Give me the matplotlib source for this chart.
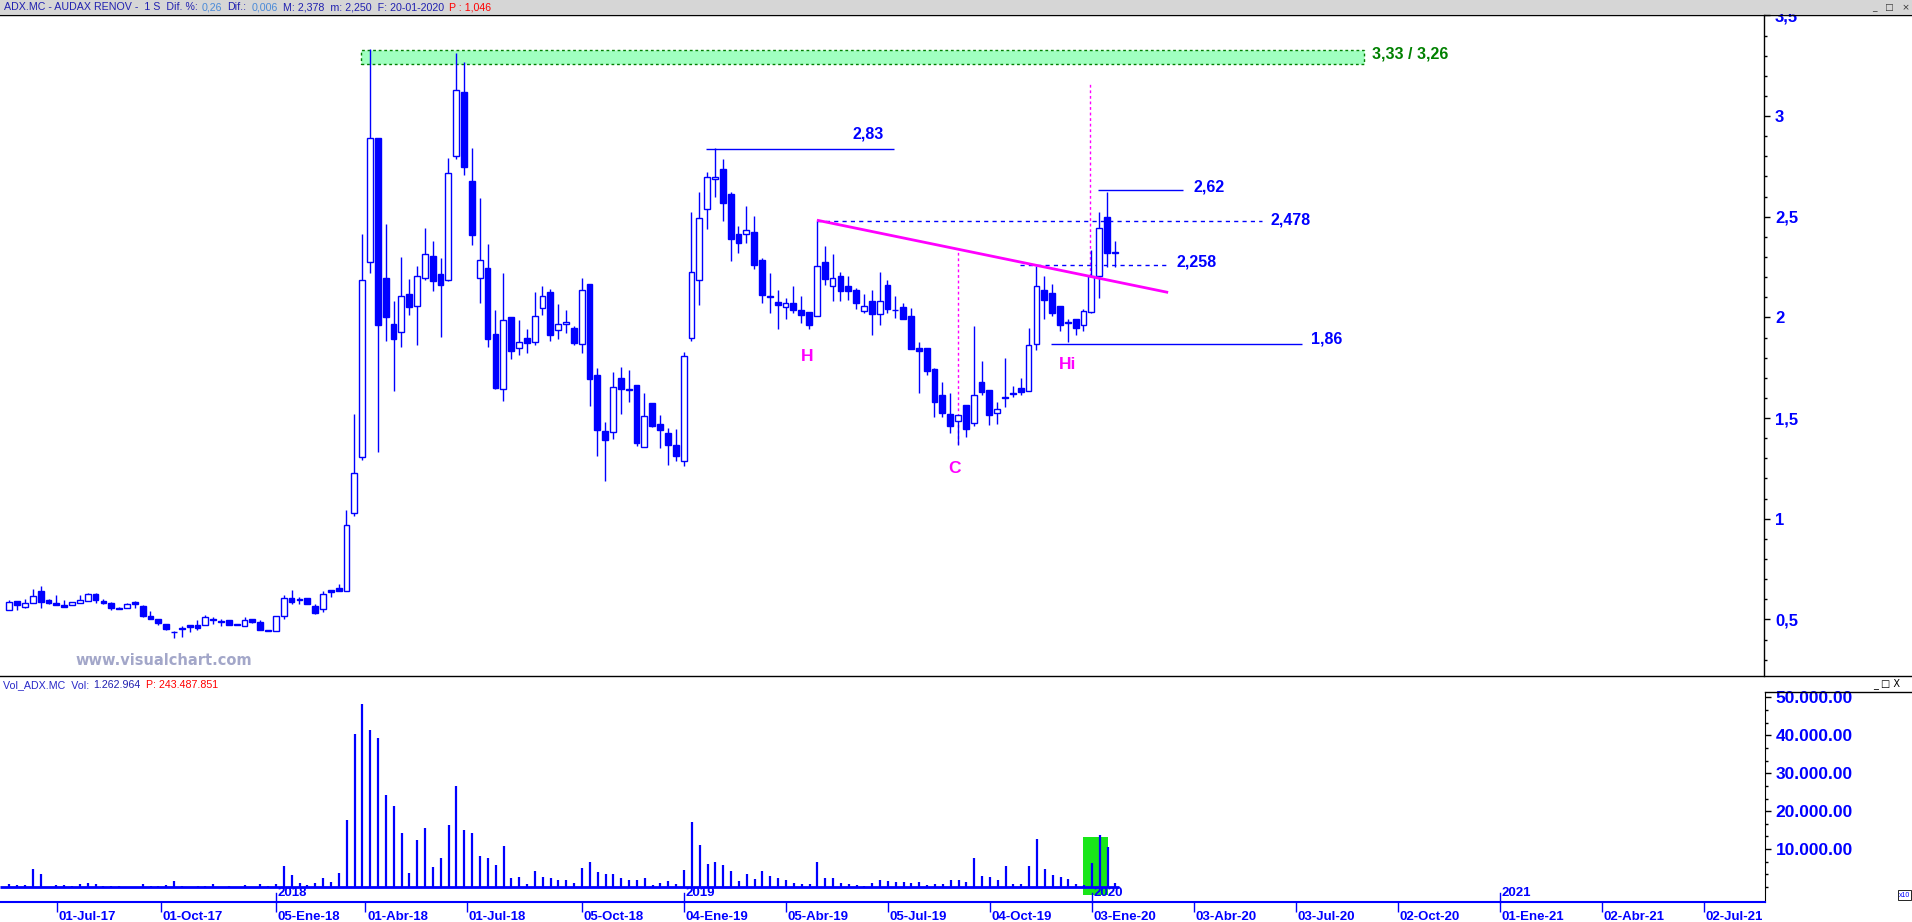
import numpy as np
import matplotlib.pyplot as plt
from matplotlib.patches import Rectangle
from matplotlib.lines import Line2D
from matplotlib.ticker import MultipleLocator, FixedLocator
import matplotlib.transforms as mtransforms

plt.rcParams['font.family'] = ['Liberation Sans', 'DejaVu Sans']

# weekly candles ADX.MC (one per week, oldest first)
opens = [0.546, 0.592, 0.564, 0.580, 0.642, 0.597, 0.582, 0.572, 0.570, 0.580,
         0.590, 0.627, 0.590, 0.582, 0.557, 0.556, 0.587, 0.566, 0.517, 0.501,
         0.476, 0.440, 0.458, 0.471, 0.473, 0.471, 0.503, 0.494, 0.496, 0.478,
         0.466, 0.503, 0.488, 0.448, 0.441, 0.516, 0.605, 0.599, 0.605, 0.567,
         0.551, 0.645, 0.655, 0.640, 1.028, 1.305, 2.277, 2.889, 2.197, 1.968,
         1.929, 2.118, 2.056, 2.196, 2.307, 2.217, 2.187, 2.804, 3.119, 2.677,
         2.197, 2.247, 1.919, 1.645, 2.003, 1.849, 1.899, 1.879, 2.048, 2.128,
         1.939, 1.968, 1.949, 1.869, 2.168, 1.715, 1.436, 1.431, 1.700, 1.642,
         1.665, 1.357, 1.575, 1.471, 1.426, 1.366, 1.285, 1.899, 2.187, 2.536,
         2.685, 2.735, 2.615, 2.416, 2.416, 2.426, 2.287, 2.108, 2.078, 2.053,
         2.073, 2.036, 2.028, 2.008, 2.277, 2.157, 2.207, 2.157, 2.138, 2.031,
         2.083, 2.017, 2.162, 2.038, 2.053, 2.008, 1.849, 1.849, 1.746, 1.617,
         1.521, 1.484, 1.567, 1.474, 1.677, 1.637, 1.526, 1.605, 1.627, 1.650,
         1.635, 1.869, 2.138, 2.123, 2.058, 1.975, 1.992, 1.964, 2.026, 2.207,
         2.501, 2.320]
highs = [0.597, 0.592, 0.600, 0.652, 0.668, 0.600, 0.622, 0.595, 0.589, 0.622,
         0.632, 0.632, 0.602, 0.585, 0.562, 0.582, 0.592, 0.572, 0.542, 0.501,
         0.476, 0.443, 0.468, 0.473, 0.497, 0.522, 0.511, 0.504, 0.496, 0.478,
         0.513, 0.503, 0.497, 0.448, 0.516, 0.622, 0.647, 0.609, 0.605, 0.575,
         0.642, 0.645, 0.678, 1.043, 1.521, 2.413, 3.333, 2.889, 2.466, 2.080,
         2.302, 2.189, 2.254, 2.443, 2.378, 2.297, 2.791, 3.313, 3.267, 2.841,
         2.592, 2.366, 2.038, 2.222, 2.003, 1.985, 1.940, 2.124, 2.154, 2.139,
         2.065, 2.035, 1.959, 2.194, 2.168, 1.751, 1.483, 1.731, 1.756, 1.741,
         1.665, 1.625, 1.575, 1.517, 1.453, 1.446, 1.826, 2.522, 2.622, 2.721,
         2.839, 2.786, 2.625, 2.456, 2.552, 2.506, 2.297, 2.220, 2.138, 2.098,
         2.158, 2.108, 2.028, 2.479, 2.357, 2.313, 2.227, 2.207, 2.148, 2.118,
         2.138, 2.224, 2.187, 2.105, 2.071, 2.048, 1.879, 1.849, 1.750, 1.677,
         1.627, 1.517, 1.567, 1.955, 1.783, 1.637, 1.580, 1.796, 1.657, 1.697,
         1.945, 2.254, 2.204, 2.168, 2.058, 1.992, 1.992, 2.041, 2.333, 2.522,
         2.625, 2.378]
lows = [0.546, 0.547, 0.559, 0.580, 0.559, 0.579, 0.570, 0.564, 0.570, 0.580,
        0.590, 0.584, 0.575, 0.549, 0.551, 0.556, 0.559, 0.514, 0.504, 0.474,
        0.446, 0.406, 0.415, 0.440, 0.449, 0.471, 0.479, 0.469, 0.474, 0.471,
        0.466, 0.481, 0.446, 0.441, 0.441, 0.504, 0.575, 0.575, 0.575, 0.529,
        0.539, 0.609, 0.639, 0.640, 1.012, 1.294, 2.221, 1.330, 1.882, 1.634,
        1.852, 2.012, 1.862, 2.184, 2.131, 1.902, 2.181, 2.788, 2.708, 2.360,
        2.071, 1.852, 1.642, 1.584, 1.793, 1.813, 1.823, 1.862, 2.012, 1.882,
        1.892, 1.922, 1.862, 1.823, 1.559, 1.310, 1.186, 1.395, 1.521, 1.579,
        1.362, 1.357, 1.454, 1.350, 1.265, 1.285, 1.260, 1.882, 2.061, 2.440,
        2.599, 2.479, 2.280, 2.320, 2.370, 2.240, 2.071, 2.021, 1.942, 1.992,
        2.021, 1.972, 1.942, 2.008, 2.161, 2.081, 2.081, 2.088, 2.041, 2.021,
        1.912, 1.962, 2.021, 1.997, 1.992, 1.842, 1.624, 1.713, 1.504, 1.507,
        1.428, 1.365, 1.405, 1.461, 1.617, 1.464, 1.471, 1.554, 1.607, 1.617,
        1.635, 1.836, 1.992, 2.008, 1.932, 1.876, 1.915, 1.932, 2.021, 2.098,
        2.250, 2.250]
closes = [0.587, 0.570, 0.584, 0.615, 0.589, 0.584, 0.574, 0.564, 0.585, 0.597,
          0.625, 0.594, 0.584, 0.556, 0.551, 0.575, 0.575, 0.519, 0.504, 0.481,
          0.450, 0.436, 0.451, 0.464, 0.459, 0.511, 0.499, 0.486, 0.474, 0.471,
          0.498, 0.486, 0.449, 0.441, 0.516, 0.605, 0.589, 0.595, 0.575, 0.534,
          0.625, 0.634, 0.639, 0.968, 1.227, 2.187, 2.889, 1.962, 2.002, 1.892,
          2.108, 2.051, 2.207, 2.317, 2.181, 2.161, 2.715, 3.128, 2.748, 2.410,
          2.287, 1.892, 1.648, 1.988, 1.833, 1.879, 1.872, 2.008, 2.108, 1.912,
          1.968, 1.978, 1.872, 2.138, 1.693, 1.440, 1.390, 1.655, 1.643, 1.639,
          1.375, 1.509, 1.459, 1.440, 1.365, 1.310, 1.808, 2.227, 2.496, 2.695,
          2.695, 2.569, 2.390, 2.370, 2.436, 2.260, 2.111, 2.101, 2.061, 2.073,
          2.036, 2.013, 1.962, 2.257, 2.191, 2.197, 2.131, 2.131, 2.071, 2.058,
          2.017, 2.083, 2.041, 2.035, 1.992, 1.842, 1.832, 1.733, 1.580, 1.524,
          1.461, 1.514, 1.444, 1.615, 1.630, 1.517, 1.546, 1.599, 1.619, 1.630,
          1.864, 2.154, 2.088, 2.021, 1.962, 1.972, 1.949, 2.033, 2.204, 2.446,
          2.320, 2.326]
volumes = [880, 616, 616, 4840, 3520, 100, 616, 616, 352, 880,
           1144, 880, 352, 352, 352, 100, 100, 880, 352, 352,
           616, 1672, 352, 100, 352, 352, 880, 100, 352, 100,
           616, 100, 880, 352, 880, 5632, 3256, 1144, 616, 1144,
           2464, 1408, 3784, 17776, 40480, 48400, 41536, 39424, 24376, 21472,
           14344, 3784, 12496, 15664, 5368, 7744, 16456, 26752, 15136, 14344,
           8272, 7744, 5896, 10912, 2464, 2728, 880, 4312, 2728, 2464,
           1936, 1936, 1144, 5104, 6688, 4048, 3520, 3520, 2464, 1936,
           1936, 2464, 616, 1144, 1672, 880, 4576, 17248, 11176, 6160,
           6688, 5896, 4312, 1672, 3520, 2200, 4312, 2992, 2464, 1936,
           1144, 880, 880, 6688, 2464, 2464, 1144, 880, 616, 352,
           1144, 1936, 1672, 1408, 1408, 1144, 1408, 616, 880, 880,
           1936, 1936, 1408, 7744, 2992, 2728, 1936, 5632, 880, 880,
           5632, 12760, 4840, 3256, 2728, 2200, 880, 616, 6424, 13816,
           10648, 1144]

date_ticks = [6.1, 19.3, 34, 45.4, 58.3, 73, 86, 99, 112, 125, 138, 151,
              164, 177, 190, 203, 216]
date_labels = ['01-Jul-17', '01-Oct-17', '05-Ene-18', '01-Abr-18', '01-Jul-18',
               '05-Oct-18', '04-Ene-19', '05-Abr-19', '05-Jul-19', '04-Oct-19',
               '03-Ene-20', '03-Abr-20', '03-Jul-20', '02-Oct-20', '01-Ene-21',
               '02-Abr-21', '02-Jul-21']
year_ticks = [34, 86, 138, 190]
year_labels = ['2018', '2019', '2020', '2021']

price_ticks = [0.5, 1, 1.5, 2, 2.5, 3, 3.5]
price_labels = ['0,5', '1', '1,5', '2', '2,5', '3', '3,5']
vol_ticks = [10000, 20000, 30000, 40000, 50000]
vol_labels = ['10.000.00', '20.000.00', '30.000.00', '40.000.00', '50.000.00']

zone_lo, zone_hi = 3.26, 3.33
lvl_283 = 2.838
lvl_262 = 2.635
lvl_2478 = 2.478
lvl_2258 = 2.258
lvl_186 = 1.868
neck_start = (103.0, 2.483)
neck_end = (147.8, 2.124)

BLUE = '#0000ff'
MAG = '#ff00ff'
NAVY = '#2020b0'
W, H = 1912, 922


def fx(px):
    return px / W


def fy(py):
    return 1 - py / H


fig = plt.figure(figsize=(W / 100, H / 100), dpi=100)


def text_run(x0, py, pieces, total_w, size=8.0, gap=5, **kw):
    # lay coloured pieces one after the other and fit them to total_w pixels
    r = fig.canvas.get_renderer()
    arts = [fig.text(0, fy(py), s, color=col, fontsize=size, va='center',
                     zorder=12, **kw) for s, col in pieces]
    widths = [a.get_window_extent(r).width for a in arts]
    k = (total_w - gap * (len(pieces) - 1)) / sum(widths)
    x = x0
    for a, w in zip(arts, widths):
        a.set_fontsize(size * k)
        a.set_x(fx(x))
        x += w * k + gap


# ---------------- price panel
ax = fig.add_axes([0, fy(676), fx(1764), fy(15) - fy(676)])
ax.set_xlim(-1.19, 223.8)
ax.set_ylim(0.219, 3.502)

idx = np.arange(len(opens))
o = np.array(opens)
c = np.array(closes)
up = c >= o
lo = np.minimum(o, c)
hgt = np.maximum(np.abs(c - o), 0.004)

ax.vlines(idx, lows, highs, color=BLUE, lw=1.0, zorder=3)
ax.bar(idx[up], hgt[up], bottom=lo[up], width=0.74, facecolor='white',
       edgecolor=BLUE, lw=1.0, zorder=4)
ax.bar(idx[~up], hgt[~up], bottom=lo[~up], width=0.74, facecolor=BLUE,
       edgecolor=BLUE, lw=1.0, zorder=4)

# resistance zone
ax.add_patch(Rectangle((44.86, zone_lo), 172.8 - 44.86, zone_hi - zone_lo,
                       facecolor='#a0ffc0', edgecolor='#008000', lw=1.0,
                       ls=(0, (2, 2)), zorder=2))
ax.text(173.8, 3.308, '3,33 / 3,26', color='#008000', fontsize=11.5,
        fontweight='bold', va='center', ha='left')

# horizontal levels
ax.hlines(lvl_283, 88.9, 112.8, color=BLUE, lw=1.0, zorder=2)
ax.text(107.6, 2.91, '2,83', color=BLUE, fontsize=11.5, fontweight='bold',
        va='center')
ax.hlines(lvl_262, 138.9, 149.7, color=BLUE, lw=1.0, zorder=2)
ax.text(151.0, 2.647, '2,62', color=BLUE, fontsize=11.5, fontweight='bold',
        va='center')
ax.hlines(lvl_2478, 103.0, 159.8, color=BLUE, lw=1.0, ls=(0, (3, 3)), zorder=2)
ax.text(160.8, 2.483, '2,478', color=BLUE, fontsize=11.5, fontweight='bold',
        va='center')
ax.hlines(lvl_2258, 128.9, 147.7, color=BLUE, lw=1.0, ls=(0, (3, 3)), zorder=2)
ax.text(148.9, 2.274, '2,258', color=BLUE, fontsize=11.5, fontweight='bold',
        va='center')
ax.hlines(lvl_186, 132.9, 164.9, color=BLUE, lw=1.0, zorder=2)
ax.text(166.0, 1.895, '1,86', color=BLUE, fontsize=11.5, fontweight='bold',
        va='center')

# neckline and projections
ax.plot([neck_start[0], neck_end[0]], [neck_start[1], neck_end[1]], color=MAG,
        lw=2.0, zorder=5, solid_capstyle='butt')
ax.vlines(121, 1.373, 2.338, color=MAG, lw=1.0, ls=(0, (2, 2)), zorder=2)
ax.vlines(137.85, 2.204, 3.169, color=MAG, lw=1.0, ls=(0, (2, 2)), zorder=2)

for px, py, s in [(101.7, 1.806, 'H'), (120.5, 1.249, 'C'), (135.0, 1.766, 'Hi')]:
    ax.text(px, py, s, color=MAG, fontsize=12.5, fontweight='bold',
            ha='center', va='center')

ax.yaxis.tick_right()
ax.set_yticks(price_ticks, price_labels, fontweight='bold', fontsize=12,
              color=BLUE)
ax.yaxis.set_minor_locator(MultipleLocator(0.1))
ax.tick_params(axis='y', which='major', length=4.5, width=1, pad=3.5,
               colors='black', labelcolor=BLUE)
ax.tick_params(axis='y', which='minor', length=2.5, width=1)
ax.set_xticks([])
ax.spines['left'].set_visible(False)
ax.spines['top'].set_visible(False)
ax.spines['bottom'].set_visible(False)
ax.spines['right'].set_linewidth(1.0)

fig.text(fx(75), fy(660), 'www.visualchart.com', color='#a3a7c9',
         fontsize=10.5, fontweight='bold', va='center', family='DejaVu Sans')

# ---------------- volume panel
axv = fig.add_axes([0, fy(902), fx(1765), fy(692) - fy(902)])
axv.set_xlim(-1.19, 223.8)
axv.set_ylim(-3958, 51450)
axv.add_patch(Rectangle((136.8, -2110), 3.2, 15300, facecolor='#19e619',
                        edgecolor='none', zorder=1))
axv.vlines(idx, 0, volumes, color=BLUE, lw=1.6, zorder=3)
axv.hlines(0, -1.19, 141.5, color=BLUE, lw=2.0, zorder=3)

axv.yaxis.tick_right()
axv.set_yticks(vol_ticks, vol_labels, fontweight='bold', fontsize=12.5,
               color=BLUE)
axv.yaxis.set_minor_locator(FixedLocator(np.arange(0, 51000, 10000 / 3)))
axv.tick_params(axis='y', which='major', length=4.5, width=1, pad=3,
                colors='black', labelcolor=BLUE)
axv.tick_params(axis='y', which='minor', length=2.5, width=1)

axv.set_xticks(date_ticks)
axv.set_xticklabels([])
axv.tick_params(axis='x', which='major', length=7, width=1, color=BLUE)
axv.spines['left'].set_visible(False)
axv.spines['top'].set_visible(False)
axv.spines['bottom'].set_color(BLUE)
axv.spines['bottom'].set_linewidth(1.5)

blend = mtransforms.blended_transform_factory(axv.transData, axv.transAxes)
for t, s in zip(date_ticks, date_labels):
    axv.text(t + 0.2, -0.072, s, transform=blend, color=BLUE, fontsize=9.5,
             fontweight='bold', va='center', ha='left', clip_on=False)
for t, s in zip(year_ticks, year_labels):
    axv.plot([t, t], [0, 0.045], transform=blend, color=BLUE, lw=1.0,
             zorder=4, clip_on=False)
    axv.text(t + 0.2, 0.042, s, transform=blend, color=BLUE, fontsize=9.5,
             fontweight='bold', va='center', ha='left', zorder=4)

# ---------------- frame, headers
fig.add_artist(Rectangle((0, fy(14)), 1, 14 / H, transform=fig.transFigure,
                         facecolor='#d6d6d6', edgecolor='none', zorder=10))
for py in (15, 676):
    fig.add_artist(Line2D([0, 1], [fy(py), fy(py)], color='black', lw=1.0,
                          zorder=11))
fig.add_artist(Line2D([fx(1765), 1], [fy(692), fy(692)], color='black', lw=1.0))

hdr = [('ADX.MC - AUDAX RENOV -  1 S  Dif. %:', NAVY), ('0,26', '#4a8ad8'),
       ('Dif.:', NAVY), ('0,006', '#4a8ad8'),
       ('M: 2,378  m: 2,250  F: 20-01-2020', NAVY), ('P : 1,046', '#ff0000')]
text_run(3.6, 7.5, hdr, 488)
fig.text(fx(1872), fy(8), '_   \u25a1   \u00d7', color='#333333', fontsize=6.5,
         va='center', zorder=12, family=['DejaVu Sans'])

vhdr = [('Vol_ADX.MC  Vol:', '#2828c8'), ('1.262.964', NAVY),
        ('P: 243.487.851', '#ff0000')]
text_run(3, 685, vhdr, 215)
fig.text(fx(1873), fy(684), '_ \u25a1 X', color='black', fontsize=7,
         va='center', family=['DejaVu Sans'])
fig.text(fx(1899), fy(895), 'x10', color=BLUE, fontsize=5, va='center',
         bbox=dict(boxstyle='square,pad=0.15', fc='white', ec='black', lw=0.6))

fig.savefig('out.png', dpi=100)
